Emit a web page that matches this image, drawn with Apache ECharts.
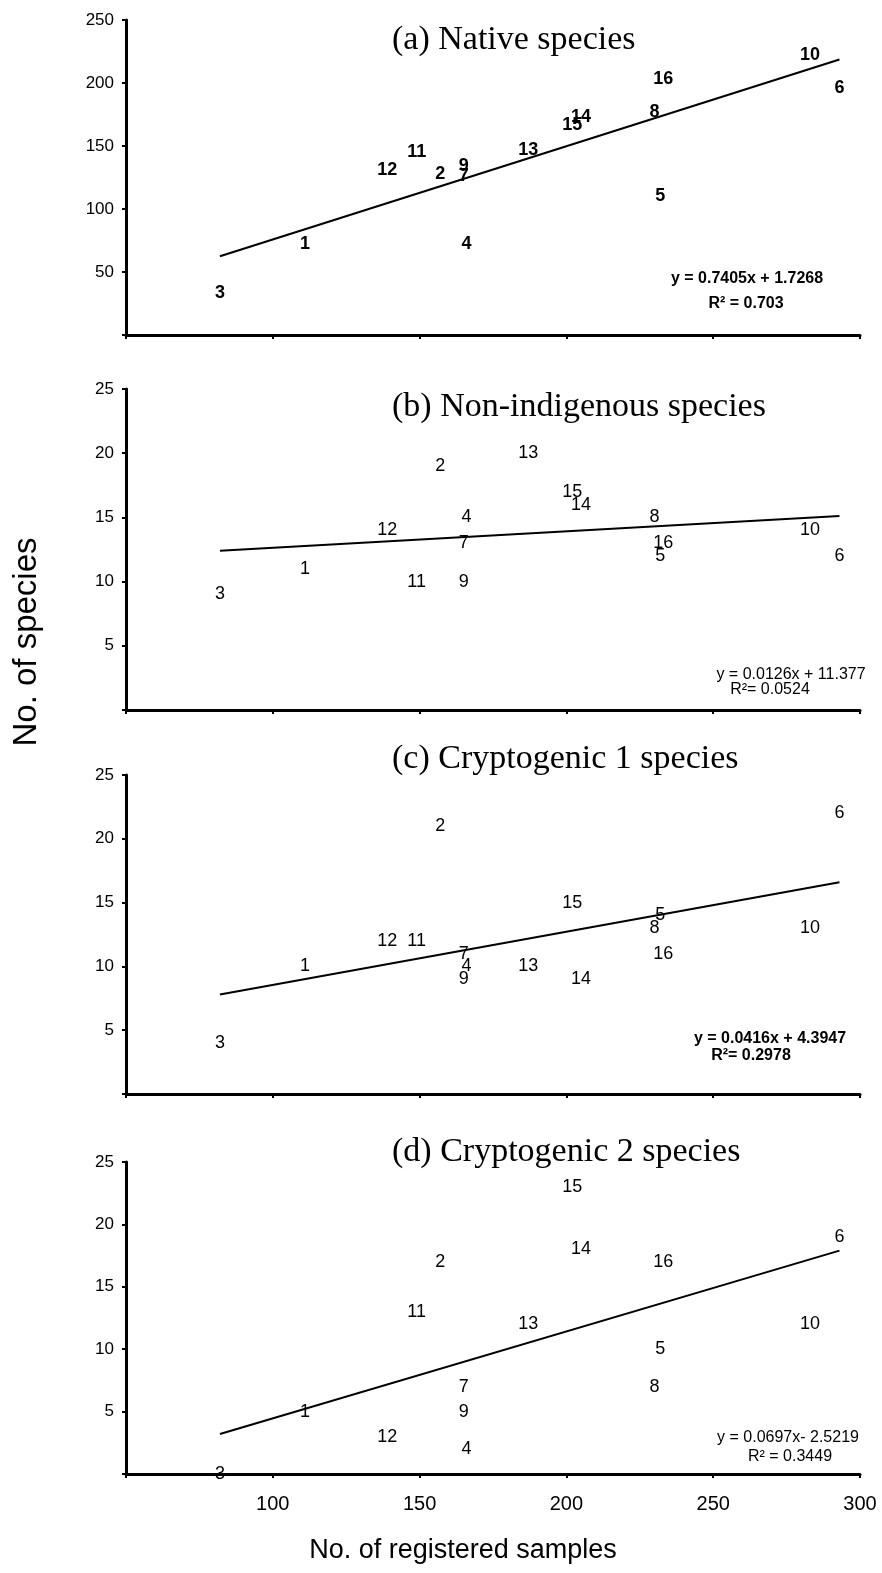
<!DOCTYPE html>
<html>
<head>
<meta charset="utf-8">
<title>No. of species vs No. of registered samples</title>
<script src="https://cdn.jsdelivr.net/npm/echarts@6/dist/echarts.min.js"></script>
<style>
  html, body { margin: 0; padding: 0; background: #fff; }
  #chart { width: 882px; height: 1573px; }
</style>
</head>
<body>
<div id="chart"></div>
<script>
// sites 1..16, same order in every array below
var sites = ['1', '2', '3', '4', '5', '6', '7', '8', '9', '10', '11', '12', '13', '14', '15', '16']
var samples = [111, 157, 82, 166, 232, 293, 165, 230, 165, 283, 149, 139, 187, 205, 202, 233]

var nativeSp = [72, 128, 33, 72, 110, 196, 126, 177, 134, 222, 145, 131, 147, 173, 167, 203]
var nonIndigenous = [11, 19, 9, 15, 12, 12, 13, 15, 10, 14, 10, 14, 20, 16, 17, 13]
var crypto1 = [10, 21, 4, 10, 14, 22, 11, 13, 9, 13, 12, 12, 10, 9, 15, 11]
var crypto2 = [5, 17, 0, 2, 10, 19, 7, 7, 5, 12, 13, 3, 12, 18, 23, 17]

// trend line end points
var trendA = [[82, 62.5], [293, 218.7]]
var trendB = [[82, 12.4], [293, 15.1]]
var trendC = [[82, 7.8], [293, 16.6]]
var trendD = [[82, 3.2], [293, 17.9]]

var panelTitles = ['(a) Native species', '(b) Non-indigenous species', '(c) Cryptogenic 1 species', '(d) Cryptogenic 2 species']
var equations = [
  ['y = 0.7405x + 1.7268', 'R² = 0.703'],
  ['y = 0.0126x + 11.377', 'R²= 0.0524'],
  ['y = 0.0416x + 4.3947', 'R²= 0.2978'],
  ['y = 0.0697x- 2.5219', 'R² = 0.3449']
]
var xTicks = [50, 100, 150, 200, 250, 300]
var yMax = [250, 25, 25, 25]
var yStep = [50, 5, 5, 5]

var SANS = '"Liberation Sans", Arial, sans-serif'
var SERIF = '"Liberation Serif", "Times New Roman", serif'

var chart = echarts.init(document.getElementById('chart'))

// pixel boxes of the four plots
var grids = [
  { left: 126, right: 22, top: 20, height: 315 },
  { left: 126, right: 22, top: 389, height: 321 },
  { left: 126, right: 22, top: 775, height: 319 },
  { left: 126, right: 22, top: 1162, height: 312 }
]

var axisLine = { show: true, onZero: false, lineStyle: { color: '#000', width: 3 } }
var axisTick = { show: true, length: 4, lineStyle: { color: '#000', width: 2 } }

var xAxes = grids.map(function (g, i) {
  return {
    gridIndex: i,
    type: 'value',
    min: xTicks[0],
    max: xTicks[xTicks.length - 1],
    interval: 50,
    axisLine: axisLine,
    axisTick: axisTick,
    splitLine: { show: false },
    axisLabel: {
      show: i === 3,
      color: '#000',
      fontSize: 20,
      fontFamily: SANS,
      margin: 20,
      formatter: function (v) { return v === 50 ? '' : v }
    }
  }
})

var yAxes = grids.map(function (g, i) {
  return {
    gridIndex: i,
    type: 'value',
    min: 0,
    max: yMax[i],
    interval: yStep[i],
    axisLine: axisLine,
    axisTick: axisTick,
    splitLine: { show: false },
    axisLabel: {
      color: '#000',
      fontSize: 17,
      fontFamily: SANS,
      margin: 12,
      formatter: function (v) { return v === 0 ? '' : v }
    }
  }
})

// the site numbers are the marks, no symbol drawn
function pointSeries(i, ys, bold) {
  return {
    type: 'scatter',
    xAxisIndex: i,
    yAxisIndex: i,
    silent: true,
    symbolSize: 2,
    itemStyle: { color: 'rgba(0,0,0,0)', opacity: 1 },
    data: samples.map(function (x, k) { return [x, ys[k], sites[k]] }),
    label: {
      show: true,
      position: 'inside',
      color: '#000',
      fontSize: 18,
      fontFamily: SANS,
      fontWeight: bold ? 'bold' : 'normal',
      formatter: function (p) { return p.data[2] }
    }
  }
}

function trendSeries(i, pts) {
  return {
    type: 'line',
    xAxisIndex: i,
    yAxisIndex: i,
    silent: true,
    symbol: 'none',
    data: pts,
    lineStyle: { color: '#000', width: 2 }
  }
}

function txt(x, y, text, font, align, rot) {
  return {
    type: 'text',
    x: x,
    y: y,
    rotation: rot || 0,
    silent: true,
    style: {
      text: text,
      font: font,
      fill: '#000',
      align: align || 'center',
      verticalAlign: 'middle',
      textAlign: align || 'center',
      textVerticalAlign: 'middle'
    }
  }
}

var titleY = [40, 407, 759, 1152]
var eqPos = [
  [[747, 279, 'bold'], [746, 304, 'bold']],
  [[791, 675, 'normal'], [770, 690, 'normal']],
  [[770, 1039, 'bold'], [751, 1056, 'bold']],
  [[788, 1438, 'normal'], [790, 1457, 'normal']]
]

var graphics = []
panelTitles.forEach(function (t, i) {
  graphics.push(txt(392, titleY[i], t, '34px ' + SERIF, 'left'))
  equations[i].forEach(function (line, j) {
    var p = eqPos[i][j]
    graphics.push(txt(p[0], p[1], line, p[2] + ' 16px ' + SANS))
  })
})
graphics.push(txt(27, 642, 'No. of species', '33px ' + SANS, 'center', Math.PI / 2))
graphics.push(txt(463, 1551, 'No. of registered samples', '27px ' + SANS))

var option = {
  animation: false,
  backgroundColor: '#fff',
  grid: grids,
  xAxis: xAxes,
  yAxis: yAxes,
  series: [
    trendSeries(0, trendA),
    trendSeries(1, trendB),
    trendSeries(2, trendC),
    trendSeries(3, trendD),
    pointSeries(0, nativeSp, true),
    pointSeries(1, nonIndigenous, false),
    pointSeries(2, crypto1, false),
    pointSeries(3, crypto2, false)
  ],
  graphic: graphics
}

chart.setOption(option)
</script>
</body>
</html>
